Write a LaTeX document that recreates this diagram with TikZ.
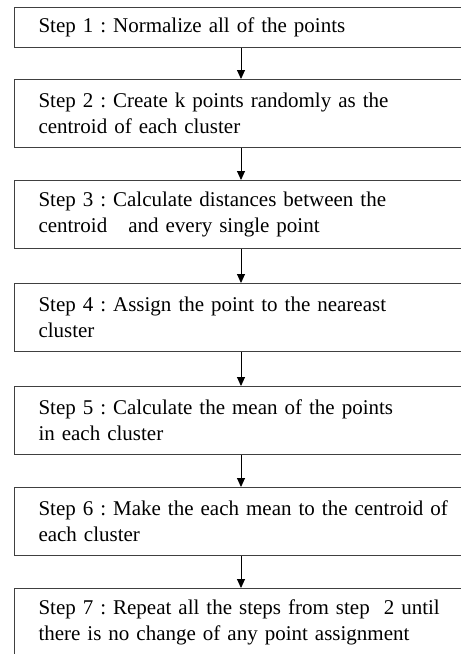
\documentclass[tikz,border=0pt]{standalone}
\usepackage{fontspec}
\setmainfont{Liberation Serif}
\usetikzlibrary{arrows.meta}

\begin{document}
\begin{tikzpicture}[
    x=1pt, y=1pt,
    stepbox/.style={draw=black!75, line width=1pt, anchor=north west,
                    minimum height=68pt, text width=430pt, inner xsep=24pt,
                    inner ysep=0pt, align=left,
                    font=\fontsize{21}{26}\selectfont\frenchspacing},
    flow/.style={-{Triangle[length=9pt,width=8pt]}, line width=0.9pt},
]

    \useasboundingbox (0,0) rectangle (461,-654);
    \clip (0,0) rectangle (461,-654);
    \coordinate (ax) at (241,0);

    \node[stepbox, minimum height=40pt] (s1) at (14,-7) {Step 1 : Normalize all of the points};
    \node[stepbox] (s2) at (14,-79) {Step 2 : Create k points randomly as the\\centroid of each cluster};
    \node[stepbox] (s3) at (14,-180) {Step 3 : Calculate distances between the\\centroid\ \ \ and every single point};
    \node[stepbox] (s4) at (14,-283) {Step 4 : Assign the point to the neareast\\cluster};
    \node[stepbox] (s5) at (14,-386) {Step 5 : Calculate the mean of the points\\in each cluster};
    \node[stepbox] (s6) at (14,-487) {Step 6 : Make the each mean to the centroid of\\each cluster};
    \node[stepbox] (s7) at (14,-588) {Step 7 : Repeat all the steps from step\ \ 2 until\\there is no change of any point assignment};
    \draw[flow] (s1.south -| ax) -- (s2.north -| ax);
    \draw[flow] (s2.south -| ax) -- (s3.north -| ax);
    \draw[flow] (s3.south -| ax) -- (s4.north -| ax);
    \draw[flow] (s4.south -| ax) -- (s5.north -| ax);
    \draw[flow] (s5.south -| ax) -- (s6.north -| ax);
    \draw[flow] (s6.south -| ax) -- (s7.north -| ax);

\end{tikzpicture}
\end{document}
